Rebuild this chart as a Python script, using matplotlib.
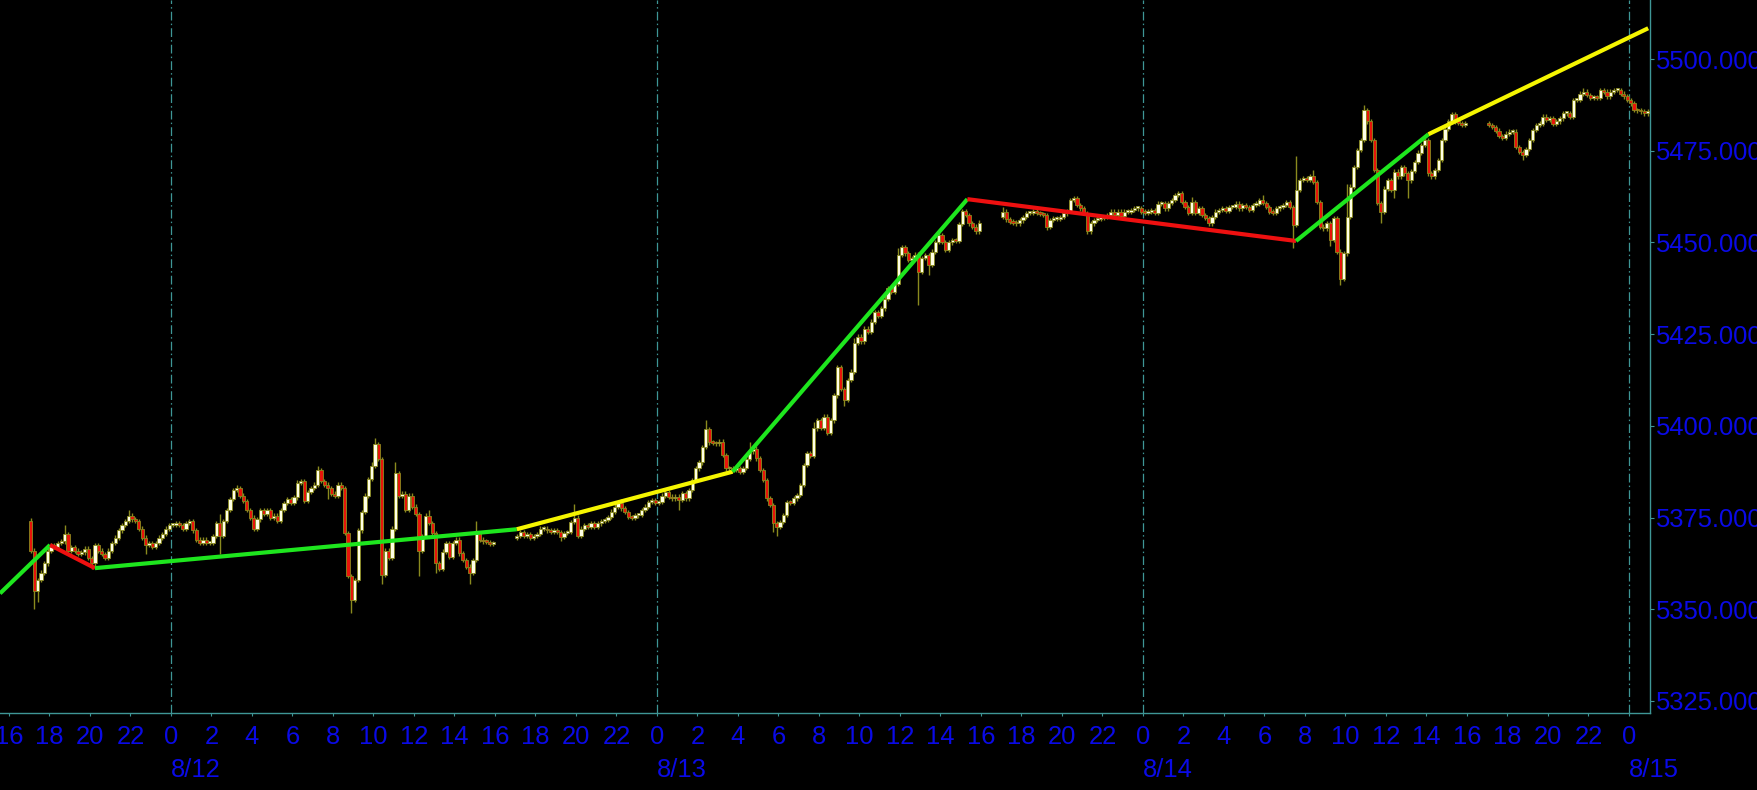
import numpy as np
import matplotlib.pyplot as plt
from matplotlib.transforms import blended_transform_factory

plt.rcParams['font.family'] = ['Liberation Sans', 'DejaVu Sans']

# 10 minute candles, hours counted from 8/12 00:00
sess_start = [-7, 17, 41, 65]
sess_open = [5374, 5369.5, 5457, 5482.5]

s1_close = [5366, 5355, 5358, 5360, 5362.5, 5366, 5367.5, 5367, 5368, 5368.5,
            5370.5, 5366, 5367, 5366, 5365, 5365.5, 5366.5, 5364, 5362.5, 5367.5,
            5366, 5365, 5364, 5366, 5368, 5369.5, 5371.5, 5373, 5374, 5375.5,
            5374.5, 5374, 5372, 5369.5, 5367.5, 5368, 5367, 5368, 5369.5, 5370.5,
            5372, 5373, 5373, 5373.5, 5373, 5372, 5373.5, 5374, 5371.5, 5369,
            5368, 5369, 5368, 5368, 5370, 5373.5, 5370, 5374, 5377, 5380,
            5382.5, 5383, 5381, 5379.5, 5377, 5375, 5372, 5374.5, 5377, 5376,
            5377, 5375, 5375.5, 5374, 5377, 5379, 5380, 5379, 5380.5, 5384.5,
            5385, 5379.5, 5382, 5383, 5384, 5388, 5385, 5384, 5383, 5381.5,
            5381, 5384, 5383, 5370.7, 5359, 5352.5, 5358, 5371.5, 5376.5, 5381,
            5385.5, 5389, 5395, 5391, 5359.3, 5366, 5364, 5372, 5387, 5381,
            5381.5, 5377, 5381, 5378, 5376, 5366, 5370, 5375.5, 5373.5, 5370.7,
            5362.5, 5361, 5365.7, 5368, 5364.3, 5368, 5369, 5365.2, 5363.4, 5361.6,
            5359.8, 5363.4, 5370.7, 5369, 5368.5, 5368.4, 5367.8, 5368]
s2_close = [5370, 5371, 5370, 5370.5, 5369.5, 5370, 5370.5, 5372, 5372, 5371.5,
            5371, 5371.5, 5371, 5369.8, 5370.7, 5371, 5373.8, 5375, 5370, 5372,
            5373, 5372.5, 5373.4, 5372.5, 5373.4, 5374, 5374.3, 5375.2, 5376.6, 5378,
            5379, 5377.5, 5376.5, 5375.2, 5375, 5375.6, 5375.7, 5377, 5378, 5379.3,
            5379.8, 5379, 5379.3, 5381, 5382, 5380.7, 5380.2, 5380.7, 5379.8, 5381.6,
            5380.2, 5382.5, 5385.2, 5388.4, 5390, 5394.3, 5399, 5395.5, 5395.3, 5395.2,
            5395.7, 5392, 5388.4, 5388.5, 5388, 5388.4, 5387.5, 5388.5, 5391, 5393,
            5393.8, 5391.1, 5388, 5385.2, 5380.2, 5378.4, 5373.4, 5372.5, 5373.8, 5375.7,
            5379.3, 5378.9, 5380.2, 5381.1, 5383.9, 5389.3, 5392.5, 5391.7, 5399.3, 5401.5,
            5399.5, 5402.5, 5398, 5401.5, 5408.3, 5416, 5410, 5407, 5412.5, 5414.8,
            5422.5, 5424.3, 5423, 5426.5, 5425.5, 5428.4, 5431.1, 5430, 5432, 5434.7,
            5437.5, 5436.5, 5438.8, 5446.6, 5448.8, 5447, 5445.2, 5445.7, 5446.7, 5442,
            5445.7, 5446.6, 5443.8, 5447.5, 5450.2, 5452, 5450.2, 5448, 5450, 5450.7,
            5450.5, 5455, 5458.5, 5457.5, 5455.2, 5454.3, 5453, 5455.4]
s3_close = [5458.4, 5456.3, 5455.7, 5455.4, 5455.2, 5456, 5457, 5458, 5458, 5458.4,
            5458, 5457.8, 5457.5, 5454.3, 5456.1, 5456.5, 5456.5, 5457, 5457.9, 5458.5,
            5461.6, 5462, 5460.2, 5459.3, 5458, 5453, 5455.2, 5456.1, 5456.5, 5456.6,
            5457, 5457.5, 5458.4, 5457.6, 5458.4, 5457.2, 5458.4, 5458.4, 5458.8, 5459.3,
            5459.3, 5458.4, 5458, 5458.4, 5458.8, 5458, 5460.6, 5460.7, 5459.3, 5460.7,
            5461.6, 5463, 5463.4, 5461.1, 5459.7, 5458, 5461, 5458, 5459.3, 5457.5,
            5456.6, 5455.2, 5457, 5458.4, 5458.8, 5459.3, 5458.5, 5459.7, 5459.7, 5460.6,
            5459.3, 5460.2, 5459.7, 5458.8, 5460.2, 5460.6, 5461.6, 5460.7, 5459.7, 5458.4,
            5458, 5459.3, 5459.7, 5460.2, 5461.1, 5459.7, 5454.7, 5464.3, 5467, 5467.5,
            5467, 5468, 5466.5, 5461.1, 5454.3, 5453.8, 5455.2, 5450.7, 5456.6, 5447.5,
            5440, 5447, 5457, 5465.2, 5470.6, 5475.2, 5478, 5486, 5483, 5478,
            5469.7, 5460.7, 5458.4, 5464.7, 5467, 5464.3, 5469.3, 5468, 5470.5, 5468.8,
            5466.9, 5469.5, 5472, 5474.5, 5476.5, 5477.9, 5468.8, 5468, 5469.7, 5472.5,
            5478, 5481, 5483, 5485, 5483, 5482.5, 5482, 5482.5]
s4_close = [5482, 5481.5, 5480.5, 5479, 5478.4, 5479.7, 5480.2, 5480.2, 5476.1, 5474.7,
            5473.8, 5475.5, 5477.9, 5480.6, 5482, 5482.4, 5484.3, 5483.4, 5483.8, 5482.4,
            5483, 5483.8, 5485.2, 5485.2, 5484.3, 5488.8, 5488.8, 5490.6, 5491.1, 5490.2,
            5489.3, 5489.7, 5489.3, 5491.5, 5491.1, 5489.8, 5491.1, 5491.5, 5491.5, 5490.6,
            5489.8, 5488.8, 5487.9, 5486.1, 5486, 5485.7, 5485.2, 5485.7]

# visible wick extremes (candle index -> price)
s1_hi = {0: 5375, 10: 5373, 29: 5377, 56: 5376, 61: 5384, 85: 5389, 101: 5390,
         102: 5396.6, 108: 5390, 118: 5377, 132: 5374}
s1_lo = {1: 5350, 2: 5352, 18: 5361, 34: 5365, 56: 5365, 88: 5380, 95: 5349,
         104: 5357, 115: 5359, 120: 5360, 130: 5357}
s2_hi = {17: 5378.7, 31: 5380, 56: 5401.5, 69: 5395.5, 88: 5401, 100: 5424,
         113: 5448.5, 125: 5453}
s2_lo = {13: 5368.5, 48: 5377, 76: 5371, 77: 5370, 84: 5381, 97: 5405.5,
         119: 5433, 122: 5441}
s3_hi = {0: 5459.6, 52: 5464, 56: 5462.4, 77: 5463, 87: 5473.5, 92: 5469.7,
         102: 5466, 107: 5487.5, 133: 5485.5}
s3_lo = {13: 5453.5, 61: 5454.5, 86: 5448.5, 97: 5449, 100: 5438.4, 112: 5455.4,
         116: 5462, 120: 5462}
s4_hi = {28: 5492}
s4_lo = {10: 5472.4}

# trend segments drawn over the candles
trend_h = [-8.44, -5.97, -3.75, 17.08, 27.74, 39.33, 55.56, 62.1, 72.95]
trend_p = [5354.3, 5367.5, 5361.2, 5371.8, 5387.5, 5461.8, 5450.4, 5479.5, 5508.4]
trend_col = ['#1EE61E', '#EE1010', '#1EE61E', '#F5F500',
             '#1EE61E', '#EE1010', '#1EE61E', '#F5F500']

hour_ticks = list(range(-8, 73, 2))
hour_labels = [str(h % 24) for h in hour_ticks]
date_ticks = [0, 24, 48, 72]
date_labels = ['8/12', '8/13', '8/14', '8/15']
price_ticks = [5325, 5350, 5375, 5400, 5425, 5450, 5475, 5500]

olive = '#8A8A1E'
cream = '#FFFFE6'
red = '#E8140A'
teal = '#3E9696'
blue = '#0A0AE6'
stub = 0.6


def candles(ax, t0, o0, closes, his, los):
    c = np.array(closes, dtype=float)
    o = np.r_[o0, c[:-1]]
    x = t0 + np.arange(len(c)) / 6 + 1 / 12
    hi = np.maximum(o, c) + stub
    lo = np.minimum(o, c) - stub
    for k, v in his.items():
        hi[k] = max(hi[k], v)
    for k, v in los.items():
        lo[k] = min(lo[k], v)
    up = c >= o
    ax.vlines(x, lo, hi, color=olive, lw=1.0, zorder=2)
    body = np.maximum(np.abs(c - o), 0.5)
    ax.bar(x, body, bottom=np.minimum(o, c), width=0.16,
           color=np.where(up, cream, red), edgecolor=olive, linewidth=0.6, zorder=3)


fig = plt.figure(figsize=(17.57, 7.9), dpi=100, facecolor='black')
ax = fig.add_axes([0, 77 / 790, 1650 / 1757, 713 / 790])
ax.set_facecolor('black')

for d in date_ticks:
    ax.axvline(d, color=teal, lw=0.9, ls=(0, (7, 2.5, 1.2, 2.5)), zorder=1)

sessions = [(s1_close, s1_hi, s1_lo), (s2_close, s2_hi, s2_lo),
            (s3_close, s3_hi, s3_lo), (s4_close, s4_hi, s4_lo)]
for t0, o0, (cl, hi, lo) in zip(sess_start, sess_open, sessions):
    candles(ax, t0, o0, cl, hi, lo)

for i in range(len(trend_col)):
    ax.plot(trend_h[i:i + 2], trend_p[i:i + 2], color=trend_col[i], lw=3,
            solid_capstyle='butt', zorder=4)

ax.set_xlim(-8.44, 73.04)
ax.set_ylim(5321.7, 5516.1)

ax.set_xticks(hour_ticks)
ax.set_xticklabels(hour_labels)
ax.set_yticks(price_ticks)
ax.set_yticklabels(['%.3f' % p for p in price_ticks])
ax.yaxis.tick_right()
ax.tick_params(axis='x', direction='out', length=2, width=0.8, color=teal,
               labelcolor=blue, labelsize=18.4, pad=7)
ax.tick_params(axis='y', direction='out', length=3, width=0.8, color=teal,
               labelcolor=blue, labelsize=18.4, pad=1.5)
for lab in ax.get_yticklabels():
    lab.set_clip_on(False)

for s in ['left', 'top']:
    ax.spines[s].set_visible(False)
for s in ['right', 'bottom']:
    ax.spines[s].set_color(teal)
    ax.spines[s].set_linewidth(1)

trans = blended_transform_factory(ax.transData, ax.transAxes)
for d, lab in zip(date_ticks, date_labels):
    ax.annotate(lab, xy=(d, 0), xycoords=trans, xytext=(0, -32.5),
                textcoords='offset points', ha='left', va='top',
                color=blue, fontsize=18.4, annotation_clip=False)

fig.savefig('out.png', dpi=100, facecolor='black')
